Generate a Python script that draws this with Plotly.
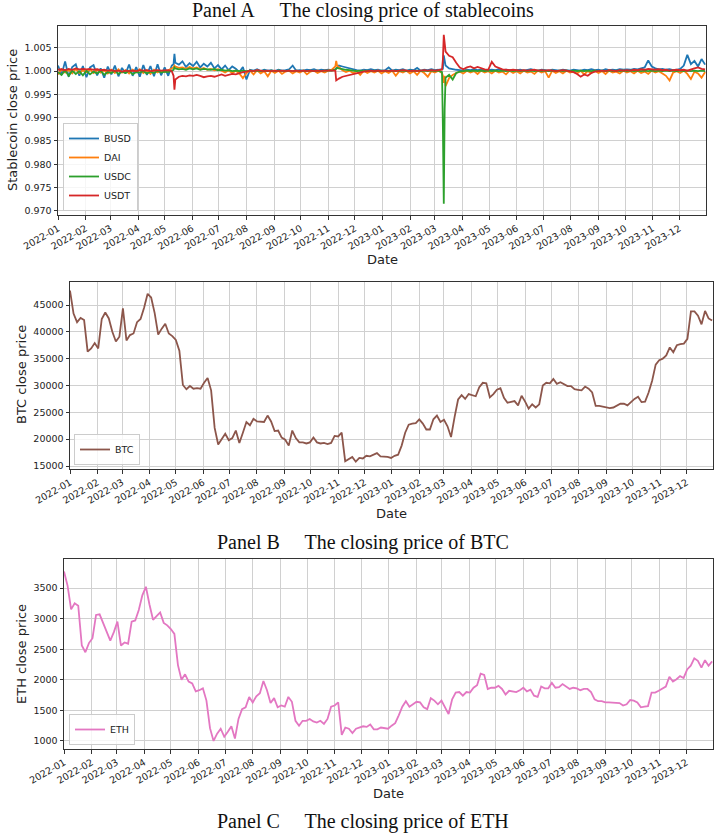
import pandas as pd
import plotly.graph_objects as go

# ---------------- data ----------------
start_date = "2022-01-01"
step = "4D"   # values below are every 4 days, one row per month

busd = [
    1.0012, 0.9992, 1.0021, 0.9988, 1.0009, 1.0015, 0.9990, 1.0011,   # 2022-01
    0.9987, 1.0008, 1.0013, 0.9991, 1.0006, 0.9986, 1.0010,           # 2022-02
    0.9993, 1.0012, 0.9989, 1.0007, 0.9995, 1.0014, 0.9990, 1.0009,   # 2022-03
    0.9988, 1.0013, 0.9992, 1.0011, 0.9989, 1.0015, 0.9991,           # 2022-04
    1.0008, 0.9990, 1.0012, 1.0018, 1.0014, 1.0021, 1.0009, 1.0017,   # 2022-05
    1.0011, 1.0020, 1.0008, 1.0016, 1.0010, 1.0018, 1.0006, 1.0013,   # 2022-06
    1.0004, 1.0012, 1.0002, 1.0010, 1.0005, 0.9998, 1.0009,           # 2022-07
    0.9982, 1.0003, 1.0001, 1.0004, 1.0000, 1.0003, 1.0001, 1.0002,   # 2022-08
    1.0000, 1.0003, 1.0001, 1.0002, 1.0004, 1.0012, 1.0001, 1.0002,   # 2022-09
    1.0001, 1.0003, 1.0002, 1.0004, 1.0001, 1.0003, 1.0002,           # 2022-10
    1.0003, 1.0002, 1.0004, 1.0012, 1.0010, 1.0008, 1.0005, 1.0003,   # 2022-11
    1.0002, 1.0001, 1.0003, 1.0002, 1.0004, 1.0002, 1.0003, 1.0001,   # 2022-12
    1.0002, 1.0008, 1.0001, 1.0003, 1.0002, 1.0004, 1.0001,           # 2023-01
    1.0003, 1.0002, 1.0007, 1.0001, 1.0003, 1.0002, 1.0004,           # 2023-02
    1.0002, 1.0003, 1.0004, 1.0012, 1.0006, 1.0004, 1.0003, 1.0002,   # 2023-03
    1.0001, 1.0003, 1.0002, 1.0004, 1.0002, 1.0003, 1.0001, 1.0002,   # 2023-04
    1.0003, 1.0002, 1.0004, 1.0001, 1.0003, 1.0002, 1.0001,           # 2023-05
    1.0002, 1.0003, 1.0001, 1.0002, 1.0004, 1.0002, 1.0001, 1.0003,   # 2023-06
    1.0002, 1.0001, 1.0003, 1.0002, 1.0001, 1.0003, 1.0002, 1.0001,   # 2023-07
    1.0003, 1.0002, 1.0001, 1.0003, 1.0002, 1.0004, 1.0002,           # 2023-08
    1.0003, 1.0001, 1.0004, 1.0002, 1.0003, 1.0002, 1.0004, 1.0003,   # 2023-09
    1.0004, 1.0003, 1.0005, 1.0004, 1.0006, 1.0008, 1.0023, 1.0010,   # 2023-10
    1.0006, 1.0004, 1.0005, 1.0003, 1.0004, 1.0002, 1.0003,           # 2023-11
    1.0005, 1.0012, 1.0035, 1.0015, 1.0022, 1.0010, 1.0026, 1.0014,   # 2023-12
]

dai = [
    0.9993, 1.0004, 0.9997, 1.0003, 0.9995, 1.0005, 0.9996, 1.0002,   # 2022-01
    0.9998, 1.0004, 0.9996, 1.0003, 0.9997, 1.0002, 0.9995,           # 2022-02
    1.0003, 0.9996, 1.0004, 0.9997, 1.0002, 0.9995, 1.0003, 0.9998,   # 2022-03
    1.0004, 0.9996, 1.0002, 0.9994, 1.0003, 0.9997, 1.0001,           # 2022-04
    0.9998, 1.0002, 1.0006, 1.0010, 1.0007, 1.0008, 1.0005, 1.0009,   # 2022-05
    1.0006, 1.0008, 1.0004, 1.0007, 1.0003, 1.0005, 1.0002, 1.0004,   # 2022-06
    1.0001, 0.9997, 1.0002, 0.9996, 1.0001, 0.9995, 0.9985,           # 2022-07
    0.9996, 1.0001, 0.9993, 1.0002, 0.9995, 1.0000, 0.9989, 1.0001,   # 2022-08
    0.9996, 1.0001, 0.9994, 0.9999, 1.0001, 0.9995, 1.0000, 0.9997,   # 2022-09
    1.0001, 0.9993, 0.9999, 1.0001, 0.9996, 1.0000, 0.9997,           # 2022-10
    1.0001, 1.0003, 1.0010, 1.0008, 1.0002, 0.9998, 1.0001, 0.9996,   # 2022-11
    1.0000, 0.9992, 1.0001, 0.9996, 1.0000, 0.9997, 1.0001, 0.9995,   # 2022-12
    1.0000, 0.9996, 1.0001, 0.9990, 1.0000, 0.9997, 1.0001,           # 2023-01
    0.9995, 1.0000, 0.9992, 1.0001, 0.9996, 0.9988, 1.0000,           # 2023-02
    0.9997, 1.0001, 0.9996, 0.9968, 0.9985, 0.9992, 0.9996, 0.9999,   # 2023-03
    0.9995, 1.0001, 0.9997, 1.0000, 0.9994, 1.0001, 0.9997, 1.0000,   # 2023-04
    0.9995, 1.0001, 0.9997, 0.9999, 0.9993, 1.0001, 0.9996,           # 2023-05
    1.0000, 0.9995, 1.0001, 0.9997, 0.9999, 0.9994, 1.0001, 0.9997,   # 2023-06
    1.0000, 0.9986, 1.0001, 0.9996, 1.0000, 0.9995, 1.0001, 0.9997,   # 2023-07
    0.9999, 0.9995, 1.0001, 0.9993, 1.0000, 0.9996, 1.0001,           # 2023-08
    0.9996, 1.0000, 0.9994, 1.0001, 0.9997, 0.9999, 0.9995, 1.0001,   # 2023-09
    0.9997, 1.0000, 0.9995, 1.0001, 0.9996, 0.9999, 0.9994, 1.0001,   # 2023-10
    0.9997, 1.0000, 0.9995, 0.9990, 0.9980, 0.9997, 1.0000,           # 2023-11
    0.9996, 1.0001, 0.9994, 0.9983, 0.9999, 0.9995, 0.9986, 0.9998,   # 2023-12
]

usdc = [
    0.9998, 0.9992, 1.0002, 0.9990, 1.0001, 0.9994, 1.0000, 0.9991,   # 2022-01
    1.0001, 0.9993, 0.9999, 0.9995, 1.0001, 0.9992, 0.9998,           # 2022-02
    0.9996, 1.0001, 0.9994, 0.9999, 0.9996, 1.0001, 0.9993, 0.9998,   # 2022-03
    0.9997, 1.0000, 0.9995, 0.9999, 0.9996, 1.0001, 0.9997,           # 2022-04
    0.9999, 0.9998, 1.0001, 1.0006, 1.0004, 1.0005, 1.0003, 1.0006,   # 2022-05
    1.0004, 1.0006, 1.0003, 1.0005, 1.0004, 1.0003, 1.0005, 1.0002,   # 2022-06
    1.0003, 1.0001, 1.0002, 1.0000, 1.0001, 1.0000, 1.0001,           # 2022-07
    1.0000, 1.0001, 1.0000, 1.0001, 1.0000, 1.0001, 1.0000, 1.0001,   # 2022-08
    1.0000, 1.0001, 1.0000, 1.0000, 1.0001, 1.0000, 1.0001, 1.0000,   # 2022-09
    1.0001, 1.0000, 1.0001, 1.0000, 1.0001, 1.0000, 1.0001,           # 2022-10
    1.0001, 1.0001, 1.0003, 1.0006, 1.0004, 1.0003, 1.0002, 1.0001,   # 2022-11
    1.0000, 1.0001, 1.0000, 1.0001, 1.0000, 1.0001, 1.0000, 1.0001,   # 2022-12
    1.0000, 1.0001, 1.0000, 1.0001, 1.0000, 1.0001, 1.0000,           # 2023-01
    1.0001, 1.0000, 1.0001, 1.0000, 1.0001, 1.0000, 1.0001,           # 2023-02
    1.0000, 1.0001, 0.9998, 0.9986, 0.9992, 0.9982, 0.9996, 0.9999,   # 2023-03
    1.0000, 1.0001, 1.0000, 1.0001, 1.0000, 1.0001, 1.0000, 1.0001,   # 2023-04
    1.0000, 1.0001, 1.0000, 1.0001, 1.0000, 1.0001, 1.0000,           # 2023-05
    1.0001, 1.0000, 1.0001, 1.0000, 1.0001, 1.0000, 1.0001, 1.0000,   # 2023-06
    1.0001, 1.0000, 1.0001, 1.0000, 1.0001, 1.0000, 1.0001, 1.0000,   # 2023-07
    1.0001, 1.0000, 1.0001, 1.0000, 1.0001, 1.0000, 1.0001,           # 2023-08
    1.0000, 1.0001, 1.0000, 1.0001, 1.0000, 1.0001, 1.0000, 1.0001,   # 2023-09
    1.0000, 1.0001, 1.0000, 1.0001, 1.0000, 1.0001, 1.0000, 1.0001,   # 2023-10
    1.0000, 1.0001, 1.0000, 1.0001, 1.0000, 1.0001, 1.0000,           # 2023-11
    1.0001, 1.0000, 1.0001, 1.0000, 1.0001, 1.0000, 1.0001, 1.0000,   # 2023-12
]

usdt = [
    1.0003, 1.0004, 1.0002, 1.0005, 1.0003, 1.0006, 1.0004, 1.0005,   # 2022-01
    1.0004, 1.0005, 1.0003, 1.0004, 1.0002, 1.0003, 1.0001,           # 2022-02
    1.0002, 1.0000, 1.0001, 0.9999, 1.0001, 1.0000, 1.0001, 1.0000,   # 2022-03
    1.0002, 1.0001, 1.0002, 1.0000, 1.0001, 1.0002, 1.0001,           # 2022-04
    1.0001, 1.0002, 1.0000, 0.9982, 0.9988, 0.9990, 0.9989, 0.9991,   # 2022-05
    0.9990, 0.9992, 0.9990, 0.9987, 0.9989, 0.9990, 0.9988, 0.9991,   # 2022-06
    0.9993, 0.9990, 0.9992, 0.9994, 0.9993, 0.9996, 0.9998,           # 2022-07
    0.9999, 1.0001, 1.0000, 1.0002, 1.0001, 1.0000, 1.0001, 1.0000,   # 2022-08
    1.0001, 1.0000, 1.0001, 1.0000, 1.0001, 1.0000, 1.0001, 1.0000,   # 2022-09
    1.0001, 1.0000, 1.0001, 1.0000, 1.0001, 1.0000, 1.0001,           # 2022-10
    1.0001, 1.0002, 1.0001, 0.9984, 0.9988, 0.9990, 0.9992, 0.9994,   # 2022-11
    0.9996, 0.9998, 0.9999, 1.0000, 1.0001, 1.0000, 1.0001, 1.0000,   # 2022-12
    1.0001, 1.0000, 1.0001, 1.0000, 1.0001, 1.0002, 1.0001,           # 2023-01
    1.0000, 1.0001, 1.0000, 1.0001, 1.0002, 1.0001, 1.0002,           # 2023-02
    1.0001, 1.0002, 1.0003, 1.0042, 1.0033, 1.0030, 1.0018, 1.0008,   # 2023-03
    1.0004, 1.0008, 1.0010, 1.0006, 1.0009, 1.0006, 1.0004, 1.0003,   # 2023-04
    1.0020, 1.0010, 1.0007, 1.0004, 1.0003, 1.0002, 1.0003,           # 2023-05
    1.0002, 1.0001, 1.0002, 1.0001, 1.0002, 1.0003, 1.0001, 1.0002,   # 2023-06
    1.0001, 1.0002, 1.0001, 1.0000, 1.0001, 1.0002, 1.0001, 1.0000,   # 2023-07
    0.9998, 0.9994, 0.9988, 0.9993, 0.9990, 0.9996, 0.9999,           # 2023-08
    1.0000, 1.0001, 1.0000, 1.0002, 1.0001, 1.0000, 1.0002, 1.0001,   # 2023-09
    1.0002, 1.0001, 1.0003, 1.0002, 1.0004, 1.0003, 1.0005, 1.0004,   # 2023-10
    1.0003, 1.0004, 1.0002, 1.0003, 1.0001, 1.0002, 1.0003,           # 2023-11
    1.0002, 1.0003, 1.0001, 1.0004, 1.0006, 1.0008, 1.0005, 1.0004,   # 2023-12
]

# extra daily closes around the de-peg events
event_dates = ["2022-05-11", "2022-05-12", "2022-11-10", "2022-11-11",
               "2023-03-10", "2023-03-11", "2023-03-12"]
busd_event = [1.0015, 1.0037, 1.0006, 1.0010, 1.0005, 1.0034, 1.0015]
dai_event = [1.0008, 1.0012, 1.0022, 1.0012, 0.9990, 0.9975, 0.9990]
usdc_event = [1.0003, 1.0008, 1.0005, 1.0007, 0.9880, 0.9715, 0.9920]
usdt_event = [0.9990, 0.9960, 0.9980, 0.9982, 1.0025, 1.0078, 1.0060]

btc = [
    47700, 43400, 41800, 42600, 42200, 36300, 36900, 37900,   # 2022-01
    36900, 42400, 43600, 42500, 40000, 38200, 39100,          # 2022-02
    44400, 38400, 39400, 39700, 41800, 42400, 44500, 47100,   # 2022-03
    46400, 43500, 39500, 40600, 41500, 39700, 39200,          # 2022-04
    38500, 36500, 30100, 29300, 29900, 29400, 29500, 29400,   # 2022-05
    30500, 31400, 29100, 22100, 19000, 19900, 21000, 19800,   # 2022-06
    20200, 21600, 19300, 21200, 23200, 22600, 23800,          # 2022-07
    23300, 23200, 23200, 24400, 23300, 21500, 21600, 20300,   # 2022-08
    19900, 18800, 21600, 20200, 19400, 19400, 19200, 19400,   # 2022-09
    20300, 19400, 19200, 19300, 19100, 19300, 20600,          # 2022-10
    20500, 21200, 15900, 16300, 16700, 15800, 16500, 16400,   # 2022-11
    16900, 16800, 17100, 17400, 16800, 16800, 16700, 16500,   # 2022-12
    16900, 17100, 18800, 21200, 22700, 22900, 23000,          # 2023-01
    23700, 22900, 21800, 21800, 23700, 24400, 23200,          # 2023-02
    23600, 22400, 20400, 24100, 27400, 28200, 27500, 28400,   # 2023-03
    28200, 28000, 29700, 30500, 30400, 27800, 28400, 29200,   # 2023-04
    29500, 27700, 26800, 27000, 27100, 26300, 28100,          # 2023-05
    27000, 25700, 26500, 25900, 26500, 30000, 30500, 30400,   # 2023-06
    31200, 30300, 30600, 30300, 29900, 29900, 29300, 29200,   # 2023-07
    29100, 29800, 29400, 28700, 26200, 26200, 26100,          # 2023-08
    25900, 25800, 25900, 26200, 26600, 26600, 26300, 26900,   # 2023-09
    27500, 27900, 26900, 27000, 28700, 30900, 33900, 34700,   # 2023-10
    35000, 35600, 37100, 36200, 37500, 37700, 37800,          # 2023-11
    38700, 43800, 43800, 43000, 41400, 43900, 42500, 42100,   # 2023-12
]

eth = [
    3770, 3540, 3150, 3250, 3210, 2560, 2450, 2600,   # 2022-01
    2680, 3060, 3070, 2930, 2790, 2640, 2780,         # 2022-02
    2950, 2560, 2610, 2590, 2950, 2970, 3140, 3380,   # 2022-03
    3520, 3230, 2980, 3040, 3100, 2930, 2890,         # 2022-04
    2830, 2750, 2240, 2000, 2090, 1970, 1940, 1810,   # 2022-05
    1830, 1860, 1660, 1210, 1000, 1120, 1200, 1070,   # 2022-06
    1150, 1240, 1040, 1360, 1520, 1550, 1720,         # 2022-07
    1630, 1730, 1780, 1980, 1830, 1620, 1700, 1550,   # 2022-08
    1580, 1560, 1720, 1640, 1330, 1250, 1330, 1330,   # 2022-09
    1360, 1320, 1300, 1330, 1280, 1360, 1560,         # 2022-10
    1580, 1630, 1100, 1220, 1200, 1130, 1200, 1220,   # 2022-11
    1240, 1230, 1270, 1190, 1190, 1220, 1210, 1200,   # 2022-12
    1250, 1290, 1420, 1560, 1650, 1560, 1600,         # 2023-01
    1640, 1630, 1550, 1520, 1700, 1660, 1600,         # 2023-02
    1660, 1560, 1440, 1680, 1790, 1800, 1740, 1800,   # 2023-03
    1790, 1870, 1910, 2100, 2080, 1850, 1870, 1870,   # 2023-04
    1900, 1850, 1760, 1820, 1810, 1800, 1830,         # 2023-05
    1870, 1810, 1840, 1740, 1720, 1890, 1860, 1860,   # 2023-06
    1950, 1870, 1880, 1930, 1890, 1850, 1870, 1860,   # 2023-07
    1830, 1850, 1850, 1800, 1680, 1650, 1650,         # 2023-08
    1630, 1630, 1630, 1620, 1620, 1580, 1600, 1670,   # 2023-09
    1660, 1630, 1550, 1560, 1570, 1790, 1790, 1820,   # 2023-10
    1860, 1890, 2050, 1970, 2010, 2060, 2030,         # 2023-11
    2170, 2230, 2350, 2310, 2200, 2320, 2230, 2300,   # 2023-12
]

stable_names = ["BUSD", "DAI", "USDC", "USDT"]
stable_colors = ["#1f77b4", "#ff7f0e", "#2ca02c", "#d62728"]
btc_color = "#8c564b"
eth_color = "#e377c2"

y_ticks_a = [0.970, 0.975, 0.980, 0.985, 0.990, 0.995, 1.000, 1.005]
y_ticks_b = [15000, 20000, 25000, 30000, 35000, 40000, 45000]
y_ticks_c = [1000, 1500, 2000, 2500, 3000, 3500]

# ---------------- build series ----------------
def grid(values):
    return pd.date_range(start_date, periods=len(values), freq=step)

def with_events(values, extra):
    idx = list(grid(values)) + list(pd.to_datetime(event_dates))
    return pd.Series(list(values) + list(extra), index=idx).sort_index()

stable_series = [with_events(busd, busd_event), with_events(dai, dai_event),
                 with_events(usdc, usdc_event), with_events(usdt, usdt_event)]

fig = go.Figure()
for name, col, s in zip(stable_names, stable_colors, stable_series):
    fig.add_trace(go.Scatter(x=s.index, y=s.values, mode="lines", name=name,
                             line=dict(color=col, width=1.8), xaxis="x", yaxis="y",
                             legend="legend"))
fig.add_trace(go.Scatter(x=grid(btc), y=btc, mode="lines", name="BTC",
                         line=dict(color=btc_color, width=1.8), xaxis="x2", yaxis="y2",
                         legend="legend2"))
fig.add_trace(go.Scatter(x=grid(eth), y=eth, mode="lines", name="ETH",
                         line=dict(color=eth_color, width=1.8), xaxis="x3", yaxis="y3",
                         legend="legend3"))

W, H = 725, 833
def px(x):
    return x / W
def py(y):
    return 1 - y / H

tickfont = dict(family="DejaVu Sans", size=9.5, color="#222")
def xaxis(dom, anchor):
    return dict(domain=dom, anchor=anchor, type="date",
                range=["2022-01-01", "2023-12-31"], tick0="2022-01-01", dtick="M1",
                tickformat="%Y-%m", tickangle=-30, tickfont=tickfont,
                showgrid=True, gridcolor="#d0d0d0", gridwidth=1,
                ticks="outside", ticklen=3.5, tickcolor="#333",
                showline=True, linecolor="#333", linewidth=1, mirror=True,
                zeroline=False, automargin=False)

def yaxis(dom, anchor, rng, vals, fmt):
    return dict(domain=dom, anchor=anchor, range=rng, tickvals=vals, tickformat=fmt,
                tickfont=tickfont, showgrid=True, gridcolor="#d0d0d0", gridwidth=1,
                ticks="outside", ticklen=3.5, tickcolor="#333",
                showline=True, linecolor="#333", linewidth=1, mirror=True,
                zeroline=False, automargin=False)

legend_style = dict(bgcolor="rgba(255,255,255,0.8)", bordercolor="#cccccc", borderwidth=1,
                    font=dict(family="DejaVu Sans", size=9.5, color="#222"),
                    xanchor="left", yanchor="bottom", itemwidth=30, tracegroupgap=0)

fig.update_layout(
    width=W, height=H, margin=dict(l=0, r=0, t=0, b=0),
    paper_bgcolor="white", plot_bgcolor="white", showlegend=True,
    xaxis=xaxis([px(58), px(706)], "y"),
    yaxis=yaxis([py(215), py(26)], "x", [0.9691, 1.0097], y_ticks_a, ".3f"),
    xaxis2=xaxis([px(70), px(713)], "y2"),
    yaxis2=yaxis([py(469), py(282)], "x2", [14440, 49290], y_ticks_b, "d"),
    xaxis3=xaxis([px(64), px(713)], "y3"),
    yaxis3=yaxis([py(749), py(559)], "x3", [869, 3974], y_ticks_c, "d"),
    legend=dict(x=px(63), y=py(211), **legend_style),
    legend2=dict(x=px(74), y=py(465), **legend_style),
    legend3=dict(x=px(69), y=py(745), **legend_style),
)

title_font = dict(family="Liberation Serif", size=20, color="#111")
label_font = dict(family="DejaVu Sans", size=13, color="#222")
annotations = [
    dict(text="Panel A\u2003 The closing price of stablecoins", x=0.5, y=py(10), font=title_font),
    dict(text="Panel B\u2003 The closing price of BTC", x=0.5, y=py(542), font=title_font),
    dict(text="Panel C\u2003 The closing price of ETH", x=0.5, y=py(821), font=title_font),
    dict(text="Date", x=px(382), y=py(259), font=label_font),
    dict(text="Date", x=px(391), y=py(513), font=label_font),
    dict(text="Date", x=px(388), y=py(793), font=label_font),
    dict(text="Stablecoin close price", x=px(13), y=py(120), font=label_font, textangle=-90),
    dict(text="BTC close price", x=px(21), y=py(375), font=label_font, textangle=-90),
    dict(text="ETH close price", x=px(21), y=py(654), font=label_font, textangle=-90),
]
for a in annotations:
    a.update(xref="paper", yref="paper", showarrow=False, xanchor="center", yanchor="middle")
fig.update_layout(annotations=annotations)

fig.write_html("out.html")
